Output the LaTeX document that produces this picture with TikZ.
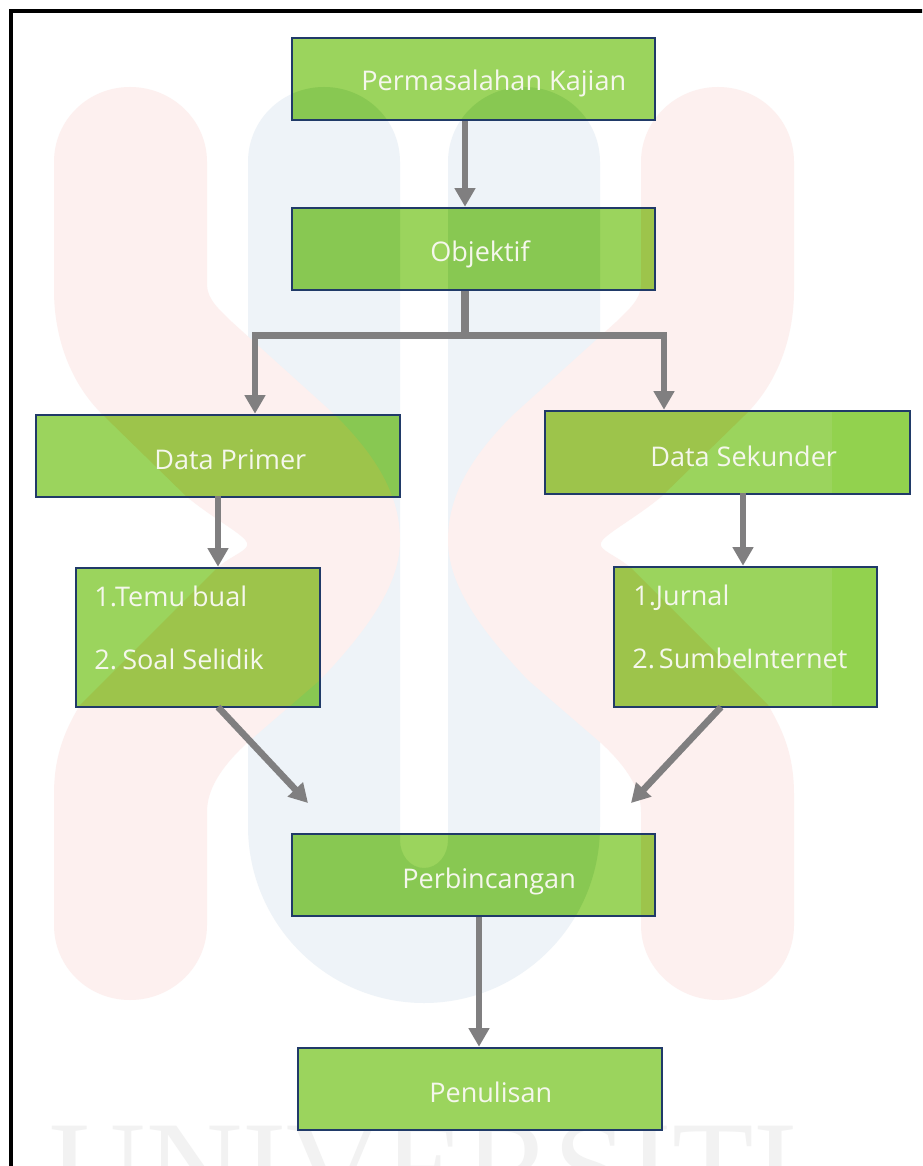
\documentclass[tikz,border=0pt]{standalone}
\usepackage{fontspec}
\setmainfont{Open Sans}
\newfontfamily\wmfont{Liberation Serif}
\usetikzlibrary{arrows.meta,fit,calc}
\definecolor{wmblue}{HTML}{EEF3F8}
\definecolor{wmred}{HTML}{FDF0EF}
\definecolor{gbase}{HTML}{9BD45D}
\definecolor{gblue}{HTML}{88C852}
\definecolor{gred}{HTML}{9DC44B}
\definecolor{gband}{HTML}{92D24E}
\definecolor{edgeblue}{HTML}{203A68}
\definecolor{conn}{HTML}{807F80}
\definecolor{txt}{HTML}{F5F7EC}
\newcommand\redshape{(54,162) .. controls (54,120) and (88,87) .. (130,87) .. controls (172,87) and (207,120) .. (207,162) -- (207,285) .. controls (207,300) and (222,312) .. (232,322) -- (335,415) .. controls (370,450) and (400,490) .. (400,540) .. controls (400,580) and (375,622) .. (320,680) -- (247,743) .. controls (220,768) and (207,790) .. (207,812) -- (207,925) .. controls (207,967) and (172,1000) .. (130,1000) .. controls (88,1000) and (54,967) .. (54,925) -- (54,795) .. controls (54,760) and (62,735) .. (80,705) -- (217,568) .. controls (232,555) and (250,550) .. (247,543) .. controls (245,535) and (215,520) .. (187,497) -- (103,415) .. controls (72,385) and (54,340) .. (54,290) -- cycle}
\newcommand\blueshape{(248,162) .. controls (248,120) and (282,87) .. (324,87) .. controls (366,87) and (400,120) .. (400,162) -- (400,840) .. controls (400,855) and (410,868) .. (424,868) .. controls (438,868) and (448,855) .. (448,840) -- (448,162) .. controls (448,120) and (482,87) .. (524,87) .. controls (566,87) and (600,120) .. (600,162) -- (600,826) .. controls (600,925) and (520,1003) .. (424,1003) .. controls (328,1003) and (248,925) .. (248,826) -- cycle}
\newcommand\wmark[2]{%
  \fill[#1] \blueshape;
  \fill[#2] \redshape;
  \fill[#2,shift={(848,0)},xscale=-1] \redshape;
}
\newcommand\boxrects{(292,38) rectangle (655,120) (292,208) rectangle (655,290) (36,415) rectangle (400,497) (545,411) rectangle (910,494) (76,568) rectangle (320,707) (614,567) rectangle (877,707) (292,834) rectangle (655,916) (298,1048) rectangle (662,1130)}
\tikzset{
  x=0.75pt,y=-0.75pt,
  flowbox/.style={draw=edgeblue,line width=1.9pt,inner sep=0pt,fill=none},
  lbl/.style={text=txt,font=\fontsize{20.3}{24}\selectfont,anchor=base west,inner sep=0pt},
  arrowline/.style={draw=conn,line width=5pt,-{Triangle[width=15pt,length=14pt]}},
  plainline/.style={draw=conn,line width=5.6pt}
}
\begin{document}
\begin{tikzpicture}
\useasboundingbox (0,0) rectangle (922,1166);
\clip (0,0) rectangle (922,1166);
\fill[white] (0,0) rectangle (922,1166);
% watermark
\wmark{wmblue}{wmred}
\node[anchor=base,inner sep=0pt,text=black!5,font=\wmfont\fontsize{100}{100}\selectfont] (wm) at (424,1213) {UNIVERSITI};
% frame
\draw[black,line width=2.8pt] (10.7,1170) -- (10.7,10.7) -- (926,10.7);
% green fills seen through the watermark
\fill[gbase] \boxrects;
\begin{scope}
\clip \boxrects;
\fill[gband] (832,400) rectangle (922,720);
\wmark{gblue}{gred}
\end{scope}
% boxes
\node[flowbox,fit={(292,38)(655,120)}] (perm) {};
\node[flowbox,fit={(292,208)(655,290)}] (obj) {};
\node[flowbox,fit={(36,415)(400,497)}] (prim) {};
\node[flowbox,fit={(545,411)(910,494)}] (sek) {};
\node[flowbox,fit={(76,568)(320,707)}] (temu) {};
\node[flowbox,fit={(614,567)(877,707)}] (jur) {};
\node[flowbox,fit={(292,834)(655,916)}] (bin) {};
\node[flowbox,fit={(298,1048)(662,1130)}] (pen) {};
% labels
\node[lbl] (tperm) at (361,91) {Permasalahan Kajian};
\node[lbl] (tobj) at (430,262) {Objektif};
\node[lbl] (tprim) at (154,469) {Data Primer};
\node[lbl] (tsek) at (650,466) {Data Sekunder};
\node[lbl] (ttemu) at (94,606) {1.Temu bual};
\node[lbl] (tsoal) at (94,669) {2.\kern4pt Soal Selidik};
\node[lbl] (tjur) at (633,605) {1.Jurnal};
\node[lbl] (tsum) at (632,668) {2.\kern3pt Sumbe\kern-1pt Internet};
\node[lbl] (tbin) at (402,888) {Perbincangan};
\node[lbl] (tpen) at (429,1102) {Penulisan};
% connector guide points
\coordinate (xa) at (465,335.5);
\coordinate (xl) at (252,335.5);
\coordinate (xld) at (255,335.5);
\coordinate (xr) at (667,335.5);
\coordinate (xrd) at (664,335.5);
\coordinate (xp) at (218,0);
\coordinate (xs) at (743,0);
\coordinate (xb) at (479,0);
\coordinate (dl) at (308,803);
\coordinate (dr) at (631,803);
\coordinate (tl) at (218,707);
\coordinate (tr) at (721,707);
% connectors
\draw[arrowline] (perm.south -| xa) -- (obj.north -| xa);
\draw[plainline] (obj.south -| xa) -- (xa);
\draw[plainline] (xl) -- (xr);
\draw[arrowline] (xld) -- (xld |- prim.north);
\draw[arrowline] (xrd) -- (xrd |- sek.north);
\draw[arrowline,shorten <=-2pt] (prim.south -| xp) -- (temu.north -| xp);
\draw[arrowline,shorten <=-2pt] (sek.south -| xs) -- (jur.north -| xs);
\draw[arrowline] (tl) -- (dl);
\draw[arrowline] (tr) -- (dr);
\draw[arrowline] (bin.south -| xb) -- (pen.north -| xb);
\end{tikzpicture}
\end{document}
